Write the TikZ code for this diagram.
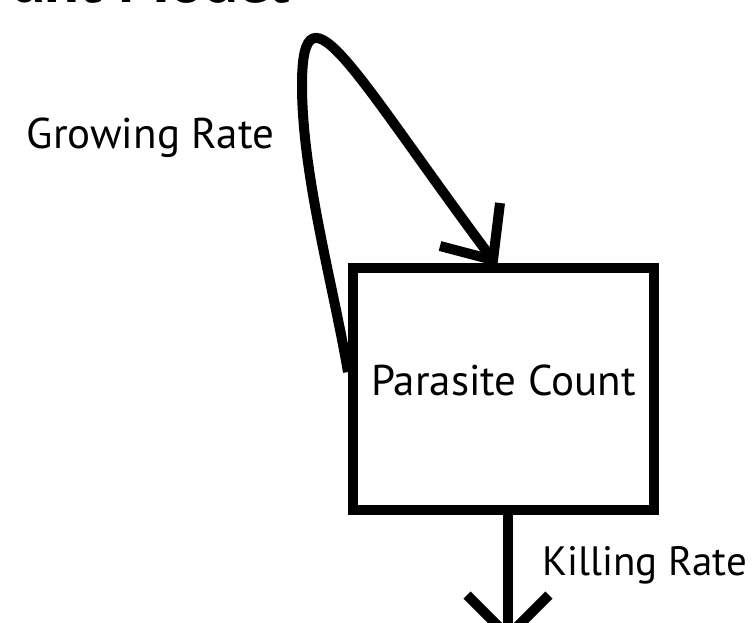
\documentclass[tikz,border=0pt]{standalone}
\usepackage{fontspec}
\setmainfont{PT Sans}
\begin{document}
\begin{tikzpicture}[x=1pt,y=-1pt, line width=10pt,
  lbl/.style={font=\fontsize{43}{50}\selectfont, inner sep=0pt},
  boxnode/.style={draw, minimum width=301pt, minimum height=242pt, inner sep=0pt, text depth=18pt, font=\fontsize{43}{50}\selectfont},
  conn/.style={line join=miter, line cap=butt}
  ]
\useasboundingbox (0,0) rectangle (754,622);
\node[anchor=base west, inner sep=0pt, font=\fontsize{64}{70}\selectfont\bfseries] (title) at (8,2) {ant Model};
\node[boxnode] (box) at (503.5,389) {Parasite Count};
\node[lbl, anchor=base east] (grow) at (279,148) {Growing Rate};
\node[lbl, anchor=base east, font=\fontsize{41}{50}\selectfont] (kill) at (752,575) {Killing Rate};
\coordinate (gs) at ([yshift=17pt]box.west);
\coordinate (gt) at ([xshift=-10.5pt,yshift=3pt]box.north);
\coordinate (gl) at (302,85);
\draw[conn] (gs) .. controls (333,284) and (302,175) .. (gl) .. controls (302,-30) and (358,80) .. (gt);
\draw[conn] ([shift={(-53,-14)}]gt) -- (gt) -- ([shift={(7,-57)}]gt);
\coordinate (kt) at (508,636);
\draw[conn] ([xshift=4.5pt]box.south) -- (kt);
\draw[conn] ([shift={(-41,-41)}]kt) -- (kt) -- ([shift={(41,-41)}]kt);
\end{tikzpicture}
\end{document}
